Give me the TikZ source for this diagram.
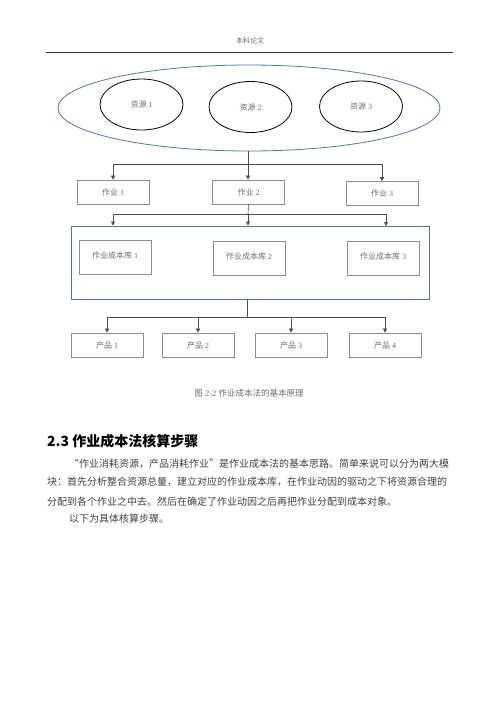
\documentclass[tikz,border=0pt]{standalone}
\usepackage{fontspec}
\setmainfont{Liberation Serif}
\newfontfamily\cjk{Noto Sans CJK SC}
\XeTeXlinebreaklocale "zh"
\XeTeXlinebreakskip=0pt plus 2pt
\usetikzlibrary{arrows.meta,shapes.geometric}
\definecolor{wordblue}{RGB}{79,116,176}
\definecolor{boxgray}{gray}{0.55}
\definecolor{txtgray}{gray}{0.42}
\definecolor{linegray}{gray}{0.3}
\definecolor{bodygray}{gray}{0.25}
\begin{document}
\begin{tikzpicture}[x=1pt,y=-1pt,
  lbl/.style={font=\fontsize{8pt}{9pt}\selectfont, text=txtgray},
  res/.style={ellipse, draw=black, line width=0.8pt, minimum width=83pt, minimum height=51pt, inner sep=0pt, lbl},
  box/.style={rectangle, draw=boxgray, line width=0.7pt, minimum width=72pt, minimum height=24pt, inner sep=0pt, lbl},
  libbox/.style={box, minimum height=34pt},
  conn/.style={draw=linegray, line width=0.6pt},
  arr/.style={conn, -{Triangle[length=4pt,width=4pt]}},
  bodytxt/.style={anchor=base west, inner sep=0pt, text=bodygray, font=\cjk\fontsize{10pt}{12pt}\selectfont}
]
\useasboundingbox (0,0) rectangle (500,707);
% header
\node[font=\cjk\fontsize{7pt}{8pt}\selectfont, text=txtgray] (hdr) at (250,41) {本科论文};
\coordinate (hl) at (46,52);
\coordinate (hr) at (453,52);
\draw[draw=black!80, line width=0.9pt] (hl) -- (hr);
% resources
\node[ellipse, draw=wordblue, line width=0.8pt, minimum width=382pt, minimum height=86pt, inner sep=0pt] (ell) at (249,108) {};
\node[res] (r1) at (141.5,104.5) {{\cjk 资源} 1};
\node[res] (r2) at (250.5,107) {{\cjk 资源} 2};
\node[res] (r3) at (361,106.5) {{\cjk 资源} 3};
% activities
\node[box] (a1) at (113,192) {{\cjk 作业} 1};
\node[box] (a2) at (248.5,192) {{\cjk 作业} 2};
\node[box] (a3) at (382,193.5) {{\cjk 作业} 3};
\coordinate (j1) at (248,164);
\draw[conn] (j1 |- ell.south) -- (j1);
\draw[arr] (j1) -| (a1.north);
\draw[arr] (j1) -- (j1 |- a2.north);
\draw[arr] (j1) -| (a3.north);
% pools
\node[rectangle, draw=wordblue, line width=0.8pt, minimum width=358pt, minimum height=73pt, inner sep=0pt] (pool) at (250,262.5) {};
\node[libbox] (p1) at (115,257) {\raisebox{3pt}{{\cjk 作业成本库} 1}};
\node[libbox] (p2) at (249,258) {\raisebox{3pt}{{\cjk 作业成本库} 2}};
\node[libbox] (p3) at (383,258) {\raisebox{3pt}{{\cjk 作业成本库} 3}};
\coordinate (j2) at (248,214);
\draw[conn] (a2.south) -- (j2);
\draw[arr] (j2) -| (a1 |- pool.north);
\draw[arr] (j2) -- (j2 |- pool.north);
\draw[arr] (j2) -| (386,226);
% products
\node[box] (q1) at (107,345) {{\cjk 产品} 1};
\node[box] (q2) at (198,345) {{\cjk 产品} 2};
\node[box] (q3) at (291,345) {{\cjk 产品} 3};
\node[box] (q4) at (385,345) {{\cjk 产品} 4};
\coordinate (j3) at (247,317);
\draw[conn] (j3 |- pool.south) -- (j3);
\draw[arr] (j3) -| (q1.north);
\draw[arr] (j3) -| (q2.north);
\draw[arr] (j3) -| (q3.north);
\draw[arr] (j3) -| (q4.north);
% caption
\node[font=\fontsize{8.5pt}{10pt}\selectfont, text=txtgray] (cap) at (249,393) {{\cjk 图} 2-2 {\cjk 作业成本法的基本原理}};
% heading
\node[anchor=west, inner sep=0pt, font=\cjk\bfseries\fontsize{14pt}{16pt}\selectfont] (head) at (47,441) {2.3 作业成本法核算步骤};
% body
\node[bodytxt] (l1) at (69,467.5) {\makebox[384pt][s]{“作业消耗资源，产品消耗作业”是作业成本法的基本思路。简单来说可以分为两大模}};
\node[bodytxt] (l2) at (47,485.5) {\makebox[406pt][s]{块：首先分析整合资源总量，建立对应的作业成本库，在作业动因的驱动之下将资源合理的}};
\node[bodytxt] (l3) at (47,505.5) {分配到各个作业之中去。然后在确定了作业动因之后再把作业分配到成本对象。};
\node[bodytxt] (l4) at (69,522.5) {以下为具体核算步骤。};
\end{tikzpicture}
\end{document}
